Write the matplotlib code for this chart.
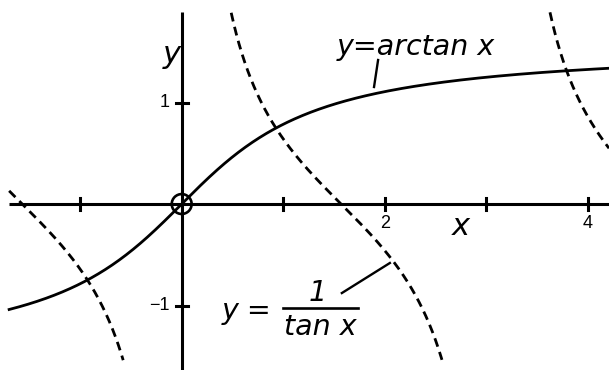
import numpy as np
import matplotlib.pyplot as plt
from matplotlib.patches import Circle

# view window (data units)
x_view = [-1.79, 4.21]
y_view = [-1.635, 2.01]

# axis extents and ticks
x_axis_start = -1.70
y_axis_top = 1.89
x_ticks = [-1, 1, 2, 3, 4]
x_tick_labels = {2: "2", 4: "4"}
y_ticks = [-1, 1]
y_tick_labels = {1: "1", -1: "\u22121"}

# cot branches are cut at these heights
cot_ymin, cot_ymax = -1.54, 1.89

fig = plt.figure(figsize=(6.09, 3.70), dpi=100)
ax = fig.add_axes([0, 0, 1, 1])
ax.set_xlim(x_view)
ax.set_ylim(y_view)
ax.set_aspect("equal")
ax.axis("off")

# axes
ax.plot([x_axis_start, x_view[1]], [0, 0], color="black", lw=2.2, solid_capstyle="butt")
ax.plot([0, 0], [y_view[0], y_axis_top], color="black", lw=2.2, solid_capstyle="butt")
tl = 0.06
for t in x_ticks:
    ax.plot([t, t], [-tl, tl], color="black", lw=2.2)
for t in y_ticks:
    ax.plot([-tl, tl], [t, t], color="black", lw=2.2)
for t, s in x_tick_labels.items():
    ax.text(t, -0.19, s, ha="center", va="center", fontsize=13, family="Liberation Sans")
for t, s in y_tick_labels.items():
    ax.text(-0.115, t, s, ha="right", va="center", fontsize=13, family="Liberation Sans")

# y = arctan x
xa = np.linspace(x_axis_start, x_view[1], 600)
ax.plot(xa, np.arctan(xa), color="black", lw=2.0)

# y = 1/tan x, three branches
branches = [(x_axis_start, -0.001), (0.001, np.pi - 0.001), (np.pi + 0.001, x_view[1])]
for a, b in branches:
    xc = np.linspace(a, b, 2000)
    yc = 1 / np.tan(xc)
    keep = (yc >= cot_ymin) & (yc <= cot_ymax)
    ax.plot(xc[keep], yc[keep], color="black", lw=2.0, linestyle=(0, (3.2, 2.0)))

# origin marker
ax.add_patch(Circle((0, 0), 0.098, fill=False, color="black", lw=1.9))

# axis names
ax.text(-0.095, 1.47, "y", ha="center", va="center", fontsize=22, style="italic")
ax.text(2.75, -0.22, "x", ha="center", va="center", fontsize=22, style="italic")

# curve labels
ax.text(2.31, 1.55, "y=arctan x", ha="center", va="center", fontsize=20.5, style="italic")
ax.plot([1.935, 1.895], [1.419, 1.153], color="black", lw=1.7)

ax.text(0.889, -1.054, "y =", ha="right", va="center", fontsize=20.5, style="italic")
ax.plot([1.0, 1.738], [-1.025, -1.025], color="black", lw=1.9)
ax.text(1.344, -0.877, "1", ha="center", va="center", fontsize=20.5, style="italic")
ax.text(1.362, -1.212, "tan x", ha="center", va="center", fontsize=20.5, style="italic")
ax.plot([1.578, 2.051], [-0.877, -0.581], color="black", lw=1.7)

fig.savefig("out.png", dpi=100, facecolor="white")
